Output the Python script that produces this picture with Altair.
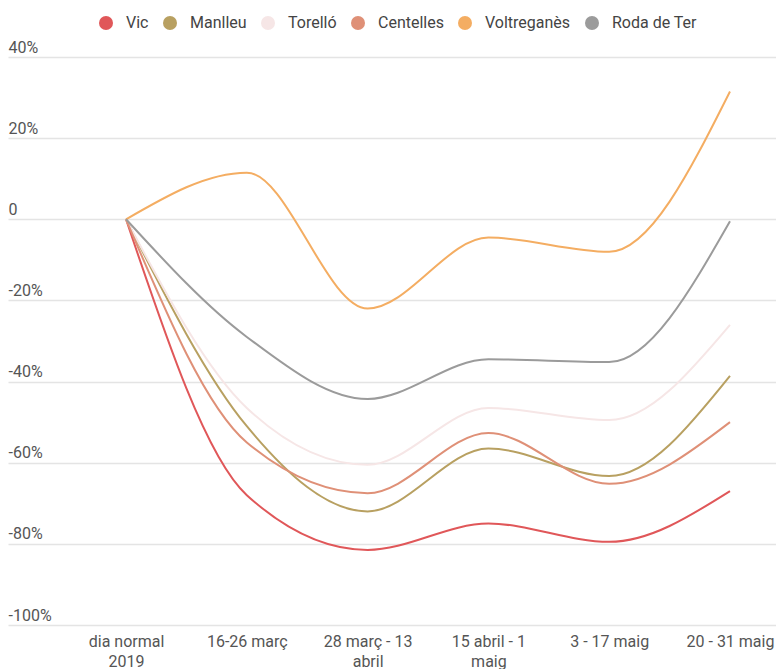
import altair as alt
import pandas as pd

periods = ["dia normal\n2019", "16-26 març", "28 març - 13\nabril",
           "15 abril - 1\nmaig", "3 - 17 maig", "20 - 31 maig"]
towns = ["Vic", "Manlleu", "Torelló", "Centelles", "Voltreganès", "Roda de Ter"]
colors = ["#e05759", "#b8a061", "#f6e6e6", "#df9077", "#f4ad62", "#9b9b9b"]

vic = [0, -68, -81.5, -75, -79.5, -67]
manlleu = [0, -51, -72, -56.5, -63.3, -38.6]
torello = [0, -46.5, -60.5, -46.5, -49.5, -26]
centelles = [0, -55, -67.5, -52.7, -65.2, -50]
voltregan = [0, 11.5, -22, -4.5, -8, 31.5]
roda = [0, -29, -44.3, -34.5, -35.2, -0.5]

series = [vic, manlleu, torello, centelles, voltregan, roda]
rows = []
for t, vals in zip(towns, series):
    for i, (p, v) in enumerate(zip(periods, vals)):
        rows.append({"town": t, "period": p, "value": v, "order": i})
df = pd.DataFrame(rows)

font = "Roboto"

x_enc = alt.X("period:O",
              scale=alt.Scale(type="point", domain=periods, padding=0.679, align=0.7195),
              sort=periods,
              axis=alt.Axis(title=None, labelExpr="split(datum.label, '\\n')",
                            labelAngle=0, labelFontSize=16, labelColor="#555",
                            labelFont=font, ticks=False, domain=False, grid=False,
                            labelPadding=8, labelLineHeight=20))
y_enc = alt.Y("value:Q",
              scale=alt.Scale(domain=[-100, 40], nice=False),
              axis=alt.Axis(title=None, values=[-100, -80, -60, -40, -20, 0, 20, 40],
                            labelExpr="datum.value == 0 ? '0' : datum.value + '%'",
                            labelAlign="left", labelBaseline="alphabetic",
                            labelOffset=-5, labelPadding=0, ticks=False, tickSize=0,
                            domain=False, labelFontSize=16, labelColor="#555",
                            labelFont=font, gridColor="#e4e4e4", gridWidth=1.5))
legend = alt.Legend(title=None, orient="none", direction="horizontal",
                    legendX=90, legendY=-42, padding=0,
                    symbolType="circle", symbolSize=196, symbolOpacity=1,
                    labelFontSize=16, labelFont=font, labelColor="#444",
                    labelOffset=12, columnPadding=13, symbolStrokeWidth=0)
color_scale = alt.Scale(domain=towns, range=colors)

base = alt.Chart(df)

lines = base.mark_line(interpolate="monotone", strokeWidth=2).encode(
    x=x_enc, y=y_enc,
    color=alt.Color("town:N", scale=color_scale, legend=legend),
    order=alt.Order("order:Q"),
)

pts = base.mark_point(filled=True, size=0, opacity=1).encode(
    x=x_enc, y=y_enc,
    color=alt.Color("town:N", scale=color_scale, legend=legend),
)

chart = alt.layer(lines, pts).properties(
    width=768, height=568,
    padding={"left": 0, "top": 7, "right": 0, "bottom": 0},
).configure_view(stroke=None)

chart.save("out.html", embed_options={"renderer": "svg", "actions": False})
